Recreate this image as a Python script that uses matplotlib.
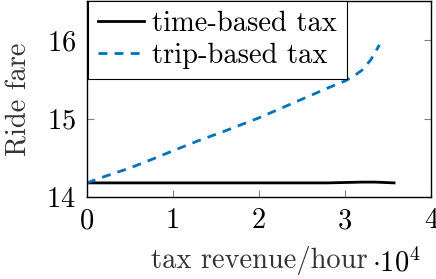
import matplotlib
matplotlib.use("Agg")
import matplotlib.pyplot as plt

revenue_trip = [0, 2000, 5000, 8000, 10000, 13000, 16000, 20000, 24000, 28000, 30000, 31000, 32000, 33000, 34000]
fare_trip = [14.18, 14.26, 14.37, 14.50, 14.59, 14.72, 14.84, 15.01, 15.20, 15.39, 15.48, 15.54, 15.62, 15.75, 15.94]

revenue_time = [0, 10000, 20000, 28000, 30000, 32000, 33500, 35700]
fare_time = [14.18, 14.18, 14.18, 14.18, 14.185, 14.19, 14.19, 14.18]

plt.rcParams['font.family'] = 'cmr10'
plt.rcParams['mathtext.fontset'] = 'cm'
plt.rcParams['axes.formatter.use_mathtext'] = True
plt.rcParams['font.size'] = 20.5

fig = plt.figure(figsize=(4.36, 2.79), dpi=100)
ax = fig.add_axes([87 / 436, 1 - 197 / 279, 344 / 436, 196 / 279])

ax.plot(revenue_time, fare_time, color='black', lw=2, label='time-based tax')
ax.plot(revenue_trip, fare_trip, color='#0072bd', lw=2, ls=(0, (3.2, 2.6)), label='trip-based tax')

ax.set_xlim(0, 40000)
ax.set_ylim(14, 16.5)
ax.set_xticks([0, 10000, 20000, 30000, 40000])
ax.set_xticklabels(['0', '1', '2', '3', '4'])
ax.set_yticks([14, 15, 16])
ax.tick_params(direction='in', length=5, color='#808080', top=True, right=True, pad=8)
for s in ax.spines.values():
    s.set_linewidth(1)

ax.set_xlabel('tax revenue/hour', color='#333333', va='baseline')
ax.xaxis.set_label_coords(0.5, -0.36)
ax.set_ylabel('Ride fare', color='#333333', va='center')
ax.yaxis.set_label_coords(-0.197, 0.5)
fig.text(372 / 436, 1 - 263 / 279, r'$\cdot10^4$', fontsize=20.5, va='center', ha='left')

leg = ax.legend(loc='upper left', bbox_to_anchor=(0.003, 1.0), fancybox=False, edgecolor='black',
                framealpha=1, borderaxespad=0, handlelength=1.6, handletextpad=0.3,
                borderpad=0.35, labelspacing=0.2)
leg.get_frame().set_linewidth(0.8)

fig.savefig('out.png', dpi=100)
